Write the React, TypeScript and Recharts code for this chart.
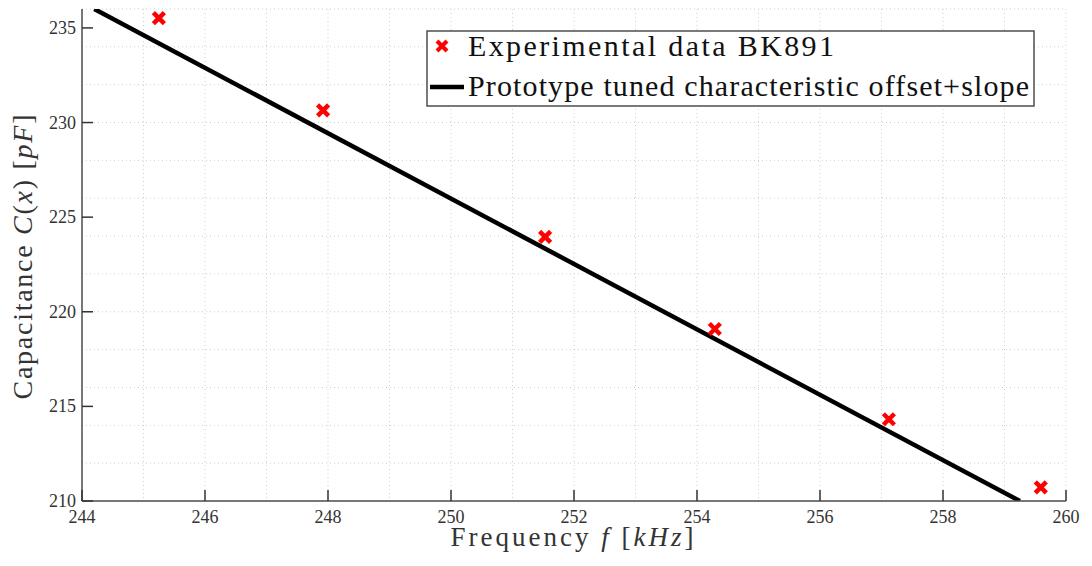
import React from 'react';
import { ComposedChart, Scatter, Line, XAxis, YAxis, CartesianGrid, Legend } from 'recharts';

// measured points (frequency in kHz, capacitance in pF)
const freqKHz = [245.25, 247.92, 251.53, 254.29, 257.12, 259.59];
const capacitancePF = [235.52, 230.64, 223.96, 219.09, 214.32, 210.72];

// tuned prototype characteristic, straight line between its two ends
const fitFreqKHz = [244.2, 259.25];
const fitCapacitancePF = [236.0, 210.0];

const xTicks = [244, 246, 248, 250, 252, 254, 256, 258, 260];
const yTicks = [210, 215, 220, 225, 230, 235];

// minor grid every 0.5 kHz and every 1 pF
const xGrid = Array.from({ length: 33 }, (_, i) => 244 + i * 0.5);
const yGrid = Array.from({ length: 27 }, (_, i) => 210 + i);

const measured = freqKHz.map((f, i) => ({ f, c: capacitancePF[i] }));
const fitted = fitFreqKHz.map((f, i) => ({ f, fit: fitCapacitancePF[i] }));

const AXIS = '#4d4d4d';
const FONT = "'Liberation Serif', 'Times New Roman', serif";

const Cross = (props: any) => {
  const { cx, cy } = props;
  const r = 5.5;
  return (
    <g stroke="#ff0000" strokeWidth={4.5}>
      <line x1={cx - r} y1={cy - r} x2={cx + r} y2={cy + r} />
      <line x1={cx - r} y1={cy + r} x2={cx + r} y2={cy - r} />
    </g>
  );
};

// ticks point inwards, like the original plot
const renderXTick = ({ x, payload }: any) => (
  <g key={`xt-${payload.value}`}>
    <line x1={x} x2={x} y1={501} y2={490} stroke="#333" strokeWidth={1.5} />
    <text x={x} y={523} textAnchor="middle" fontFamily={FONT} fontSize={18} fill="#333">
      {payload.value}
    </text>
  </g>
);

const renderYTick = ({ y, payload }: any) => (
  <g key={`yt-${payload.value}`}>
    <line x1={82} x2={93} y1={y} y2={y} stroke="#333" strokeWidth={1.5} />
    <text x={76} y={y + 6} textAnchor="end" fontFamily={FONT} fontSize={18} fill="#333">
      {payload.value}
    </text>
  </g>
);

const XLabel = ({ viewBox }: any) => {
  const cx = viewBox.x + viewBox.width / 2;
  return (
    <text x={cx - 2} y={546} textAnchor="middle" fontFamily={FONT} fontSize={27} fill="#333"
      textLength={243} lengthAdjust="spacing">
      Frequency <tspan fontStyle="italic">f</tspan> [<tspan fontStyle="italic">kHz</tspan>]
    </text>
  );
};

const YLabel = ({ viewBox }: any) => {
  const cy = viewBox.y + viewBox.height / 2 + 2;
  const x = 32;
  return (
    <text x={x} y={cy} textAnchor="middle" transform={`rotate(-90 ${x} ${cy})`} fontFamily={FONT}
      fontSize={28} fill="#333" textLength={285} lengthAdjust="spacing">
      Capacitance <tspan fontStyle="italic">C</tspan>(<tspan fontStyle="italic">x</tspan>) [<tspan fontStyle="italic">pF</tspan>]
    </text>
  );
};

const LegendBox = () => (
  <svg width={609} height={77} style={{ display: 'block' }}>
    <rect x={1} y={1} width={607} height={75} fill="#fff" stroke={AXIS} strokeWidth={1.5} />
    <g stroke="#ff0000" strokeWidth={4}>
      <line x1={11} y1={11} x2={21} y2={21} />
      <line x1={11} y1={21} x2={21} y2={11} />
    </g>
    <text x={42} y={26} fontFamily={FONT} fontSize={30} fill="#111" textLength={366} lengthAdjust="spacing">
      Experimental data BK891
    </text>
    <line x1={4} x2={38} y1={57} y2={57} stroke="#000" strokeWidth={4.5} />
    <text x={42} y={66} fontFamily={FONT} fontSize={30} fill="#111" textLength={561} lengthAdjust="spacing">
      Prototype tuned characteristic offset+slope
    </text>
  </svg>
);

export default function App() {
  return (
    <div style={{ position: 'absolute', left: 0, top: 0, width: 1092, height: 566, background: '#fff' }}>
      <ComposedChart width={1092} height={566} margin={{ top: 9, right: 26, bottom: 0, left: 0 }}>
        <CartesianGrid
          stroke="#cfcfcf"
          strokeDasharray="1 3"
          verticalValues={xGrid}
          horizontalValues={yGrid}
        />
        <XAxis
          type="number"
          dataKey="f"
          domain={[244, 260]}
          ticks={xTicks}
          allowDataOverflow
          height={65}
          stroke={AXIS}
          strokeWidth={1.5}
          tickLine={false}
          tick={renderXTick}
          label={<XLabel />}
        />
        <YAxis
          type="number"
          domain={[210, 236]}
          ticks={yTicks}
          allowDataOverflow
          width={82}
          stroke={AXIS}
          strokeWidth={1.5}
          tickLine={false}
          tick={renderYTick}
          label={<YLabel />}
        />
        <Legend
          layout="vertical"
          align="center"
          verticalAlign="middle"
          wrapperStyle={{ left: 426, top: 30, width: 609, height: 77 }}
          content={() => <LegendBox />}
        />
        <Line
          data={fitted}
          dataKey="fit"
          stroke="#000"
          strokeWidth={4.5}
          dot={false}
          activeDot={false}
          legendType="line"
          isAnimationActive={false}
        />
        <Scatter data={measured} dataKey="c" shape={<Cross />} isAnimationActive={false} />
      </ComposedChart>
    </div>
  );
}
